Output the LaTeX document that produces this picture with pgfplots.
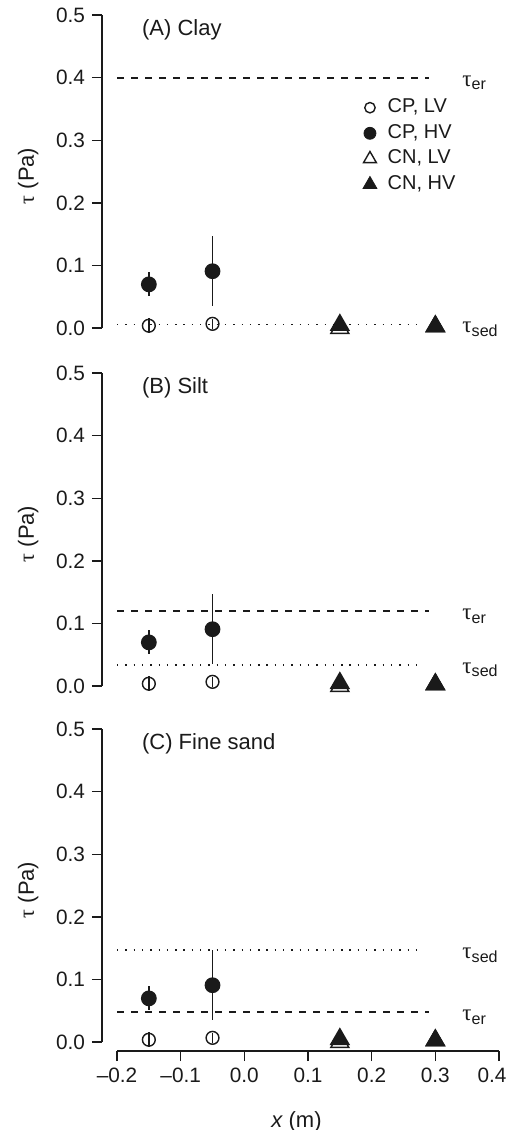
\documentclass[border=0pt]{standalone}
\usepackage{fontspec}
\setmainfont{Liberation Sans}
\newfontfamily\serif{Liberation Serif}
\usepackage{pgfplots}
\pgfplotsset{compat=1.18}
\definecolor{ink}{HTML}{1A1A1A}

\tikzset{
  taulab/.style={anchor=base west, inner sep=0pt, yshift=-4.2pt, font=\fontsize{11.5}{13}\selectfont, text=ink},
  paneltitle/.style={anchor=west, inner sep=0pt, font=\fontsize{11}{13}\selectfont, text=ink},
}
\pgfplotsset{
  panel/.style={
    scale only axis, width=198.5pt, height=161pt,
    xmin=-0.2236, xmax=0.4, ymin=-0.014, ymax=0.5,
    axis x line*=bottom, axis y line*=left,
    axis line style={draw=none},
    tick align=outside, major tick length=5pt,
    every tick/.style={ink, line width=0.75pt},
    ytick={0,0.1,0.2,0.3,0.4,0.5},
    yticklabels={0.0,0.1,0.2,0.3,0.4,0.5},
    xtick={-0.2,-0.1,0,0.1,0.2,0.3,0.4},
    xticklabels={–0.2,–0.1,0.0,0.1,0.2,0.3,\hspace*{-7pt}0.4},
    ticklabel style={font=\fontsize{10.4}{12}\selectfont, text=ink},
    ylabel={{\serif τ} (Pa)},
    ylabel style={at={(axis description cs:-0.186,0.5)}, anchor=center, font=\fontsize{11}{13}\selectfont, text=ink},
    clip=false,
  },
  lvc/.style={only marks, mark=o, mark size=3.2pt, ink, line width=0.7pt},
  hvc/.style={only marks, mark=*, mark size=3.6pt, ink, line width=0.7pt},
  lvt/.style={only marks, mark=triangle, mark size=5.2pt, ink, line width=0.7pt},
  hvt/.style={only marks, mark=triangle*, mark size=5.2pt, ink, line width=0.7pt},
  eb/.style={error bars/.cd, y dir=both, y explicit, error mark=none,
             error bar style={line width=0.75pt, ink}},
  erline/.style={ink, line width=0.9pt, dash pattern=on 3.3pt off 3.7pt},
  sedline/.style={ink, line width=0.75pt, dash pattern=on 0.7pt off 3.45pt},
  limg/.style={legend image code/.code={\draw[##1] plot coordinates {(0pt,0pt)}; \path (-5pt,0pt) (7pt,0pt);}},
}

\newcommand{\datapoints}{%
  \addplot[lvc, eb] coordinates {(-0.15,0.004) +- (0,0.012) (-0.05,0.007) +- (0,0.008)};
  \addplot[hvc, eb] coordinates {(-0.15,0.070) +- (0,0.019) (-0.05,0.091) +- (0,0.056)};
  \addplot[lvt] coordinates {(0.15,0.000) (0.30,0.003)};
  \addplot[hvt] coordinates {(0.15,0.005) (0.30,0.003)};
  \draw[ink, line width=0.75pt] (axis cs:-0.2236,0) -- (axis cs:-0.2236,0.5);
}

\begin{document}
\begin{tikzpicture}
\useasboundingbox (-51pt,168.5pt) rectangle (202.5pt,-396.5pt);

% (A) Clay
\begin{axis}[panel, at={(0pt,0pt)}, anchor=south west, xtick=\empty,
  legend style={at={(axis description cs:0.647,0.75)}, anchor=north west,
    draw=none, fill=none, inner sep=0pt, row sep=1pt,
    font=\fontsize{10}{11}\selectfont, text=ink,
    nodes={inner sep=1.5pt, text height=6.8pt, text depth=2pt}},
  legend cell align=left]
  \addlegendimage{limg, only marks, mark=o, mark size=2.6pt, ink, line width=0.7pt}
  \addlegendentry{CP, LV}
  \addlegendimage{limg, only marks, mark=*, mark size=3pt, ink}
  \addlegendentry{CP, HV}
  \addlegendimage{limg, only marks, mark=triangle, mark size=3.7pt, ink, line width=0.7pt}
  \addlegendentry{CN, LV}
  \addlegendimage{limg, only marks, mark=triangle*, mark size=4pt, ink}
  \addlegendentry{CN, HV}
  \addplot[erline, forget plot] coordinates {(-0.2,0.4) (0.29,0.4)};
  \addplot[sedline, forget plot] coordinates {(-0.2,0.006) (0.28,0.006)};
  \begingroup\pgfplotsset{every axis plot/.append style={forget plot}}
  \datapoints
  \endgroup
  \node[taulab] at (axis cs:0.342,0.4) {{\serif τ}\textsubscript{er}};
  \node[taulab] at (axis cs:0.342,0.006) {{\serif τ}\textsubscript{sed}};
  \node[paneltitle] at (axis description cs:0.1,0.955) {(A) Clay};
\end{axis}

% (B) Silt
\begin{axis}[panel, at={(0pt,-179pt)}, anchor=south west, xtick=\empty]
  \addplot[erline] coordinates {(-0.2,0.12) (0.29,0.12)};
  \addplot[sedline] coordinates {(-0.2,0.034) (0.28,0.034)};
  \datapoints
  \node[taulab] at (axis cs:0.342,0.12) {{\serif τ}\textsubscript{er}};
  \node[taulab] at (axis cs:0.342,0.034) {{\serif τ}\textsubscript{sed}};
  \node[paneltitle] at (axis description cs:0.1,0.955) {(B) Silt};
\end{axis}

% (C) Fine sand
\begin{axis}[panel, at={(0pt,-357pt)}, anchor=south west,
  xlabel={{\itshape x} (m)},
  xlabel style={at={(axis description cs:0.49,-0.22)}, anchor=center, font=\fontsize{11}{13}\selectfont, text=ink}]
  \addplot[sedline] coordinates {(-0.2,0.147) (0.28,0.147)};
  \addplot[erline] coordinates {(-0.2,0.048) (0.29,0.048)};
  \datapoints
  \draw[ink, line width=0.75pt] (axis cs:-0.2,-0.014) -- (axis cs:0.4,-0.014);
  \node[taulab] at (axis cs:0.342,0.147) {{\serif τ}\textsubscript{sed}};
  \node[taulab] at (axis cs:0.342,0.048) {{\serif τ}\textsubscript{er}};
  \node[paneltitle] at (axis description cs:0.1,0.955) {(C) Fine sand};
\end{axis}
\end{tikzpicture}
\end{document}
